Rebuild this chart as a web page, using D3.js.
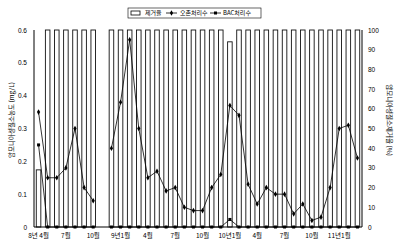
<!DOCTYPE html>
<meta charset="utf-8">
<style>
body { margin: 0; background: #fff; }
svg { display: block; font-family: "Liberation Sans", "Noto Sans CJK KR", sans-serif; }
.kr { font-family: "Noto Sans CJK KR", sans-serif; }
.axis path, .axis line { stroke: #000; stroke-width: 1px; }
.axis text { font-size: 6.5px; fill: #000; }
.bar { fill: #fff; stroke: #111; stroke-width: .9px; }
.line { fill: none; stroke: #000; stroke-width: .8px; }
</style>
<body>
<script src="https://d3js.org/d3.v7.min.js"></script>
<script>

// monthly samples, 8년 4월 .. 11년 3월 (index 7 = no sample)
var months = ["8년 4월","","","7월","","","10월","","","9년1월","","","4월","","","7월","","","10월","","","10년1월","","","4월","","","7월","","","10월","","","11년1월","",""];
var removal = [29,100,100,100,100,100,100,null,100,100,100,100,100,100,100,100,100,100,100,100,100,94,100,100,100,100,100,100,100,100,100,100,100,100,100,100];
var ozone = [0.35,0.15,0.15,0.18,0.30,0.12,0.08,null,0.24,0.38,0.57,0.30,0.15,0.17,0.11,0.12,0.06,0.05,0.05,0.12,0.16,0.37,0.34,0.13,0.07,0.12,0.10,0.10,0.04,0.07,0.02,0.03,0.12,0.30,0.31,0.21];
var bac = [0.25,0,0,0,0,0,0,null,0,0,0,0,0,0,0,0,0,0,0,0,0,0.023,0,0,0,0,0,0,0,0,0,0,0,0,0,0];
var leftTicks = [0,0.1,0.2,0.3,0.4,0.5,0.6];
var rightTicks = [0,10,20,30,40,50,60,70,80,90,100];

var width = 403, height = 247,
    x0 = 34, x1 = 362, yTop = 30, yBot = 227;

var svg = d3.select("body").append("svg")
    .attr("width", width)
    .attr("height", height);

var x = d3.scaleBand()
    .domain(d3.range(months.length))
    .range([x0, x1])
    .paddingInner(0.5)
    .paddingOuter(0.25);
var yL = d3.scaleLinear().domain([0, 0.6]).range([yBot, yTop]);
var yR = d3.scaleLinear().domain([0, 100]).range([yBot, yTop]);
var cx = function(i) { return x(i) + x.bandwidth() / 2; };

// bars : removal rate, right axis
svg.append("g").selectAll("rect")
    .data(removal.map(function(v, i) { return {i: i, v: v}; }).filter(function(d) { return d.v != null; }))
  .enter().append("rect")
    .attr("class", "bar")
    .attr("x", function(d) { return x(d.i); })
    .attr("width", x.bandwidth())
    .attr("y", function(d) { return yR(d.v); })
    .attr("height", function(d) { return yBot - yR(d.v); });

// axes
svg.append("g")
    .attr("class", "axis")
    .attr("transform", "translate(" + x0 + ",0)")
    .call(d3.axisLeft(yL).tickValues(leftTicks).tickSize(0).tickPadding(7)
      .tickFormat(function(d) { return d === 0 ? "0" : d3.format(".1f")(d); }))
    .call(function(g) { g.select(".domain").attr("d", "M0," + yTop + "V" + yBot); });

svg.append("g")
    .attr("class", "axis")
    .attr("transform", "translate(" + x1 + ",0)")
    .call(d3.axisRight(yR).tickValues(rightTicks).tickSize(0).tickPadding(6))
    .call(function(g) { g.select(".domain").attr("d", "M0," + yTop + "V" + yBot); });

var xAxis = svg.append("g")
    .attr("class", "axis kr")
    .attr("transform", "translate(0," + yBot + ")")
    .call(d3.axisBottom(x).tickSize(0).tickPadding(6)
      .tickFormat(function(i) { return months[i]; }));
xAxis.select(".domain").attr("d", "M" + x0 + ",0H" + x1);
xAxis.selectAll("text").style("font-size", "6.5px");

// lines
var line = function(ys) {
  return d3.line()
    .defined(function(d) { return d != null; })
    .x(function(d, i) { return cx(i); })
    .y(function(d) { return ys(d); });
};

svg.append("path").datum(ozone).attr("class", "line").attr("d", line(yL));
svg.append("path").datum(bac).attr("class", "line").attr("d", line(yL));

var diamond = d3.symbol().type(d3.symbolDiamond).size(9);
var square = d3.symbol().type(d3.symbolSquare).size(9);

svg.append("g").selectAll("path")
    .data(ozone.map(function(v, i) { return {i: i, v: v}; }).filter(function(d) { return d.v != null; }))
  .enter().append("path")
    .attr("d", diamond)
    .attr("transform", function(d) { return "translate(" + cx(d.i) + "," + yL(d.v) + ")"; });

svg.append("g").selectAll("path")
    .data(bac.map(function(v, i) { return {i: i, v: v}; }).filter(function(d) { return d.v != null; }))
  .enter().append("path")
    .attr("d", square)
    .attr("transform", function(d) { return "translate(" + cx(d.i) + "," + yL(d.v) + ")"; });

// axis titles
svg.append("text")
    .attr("class", "kr")
    .attr("transform", "translate(14,120) rotate(-90)")
    .attr("text-anchor", "middle")
    .style("font-size", "6.5px")
    .text("암모니아성질소농도 (mg/L)");

svg.append("text")
    .attr("class", "kr")
    .attr("transform", "translate(387,120) rotate(90)")
    .attr("text-anchor", "middle")
    .style("font-size", "6.5px")
    .text("암모니아성질소제거율 (%)");

// legend
var lg = svg.append("g").attr("class", "kr").style("font-size", "6px");
lg.append("rect").attr("x", 128).attr("y", 8).attr("width", 133).attr("height", 10)
    .attr("fill", "none").attr("stroke", "#000").attr("stroke-width", .6);
lg.append("rect").attr("x", 131).attr("y", 11).attr("width", 9).attr("height", 4)
    .attr("fill", "#fff").attr("stroke", "#000").attr("stroke-width", .8);
lg.append("text").attr("x", 145).attr("y", 15.3).text("제거율");
lg.append("line").attr("x1", 166).attr("x2", 177).attr("y1", 13).attr("y2", 13).attr("stroke", "#000").attr("stroke-width", .8);
lg.append("path").attr("d", diamond).attr("transform", "translate(171.5,13)");
lg.append("text").attr("x", 180).attr("y", 15.3).text("오존처리수");
lg.append("line").attr("x1", 210).attr("x2", 221).attr("y1", 13).attr("y2", 13).attr("stroke", "#000").attr("stroke-width", .8);
lg.append("path").attr("d", square).attr("transform", "translate(215.5,13)");
lg.append("text").attr("x", 223).attr("y", 15.3).text("BAC처리수");

</script>
</body>
</html>
